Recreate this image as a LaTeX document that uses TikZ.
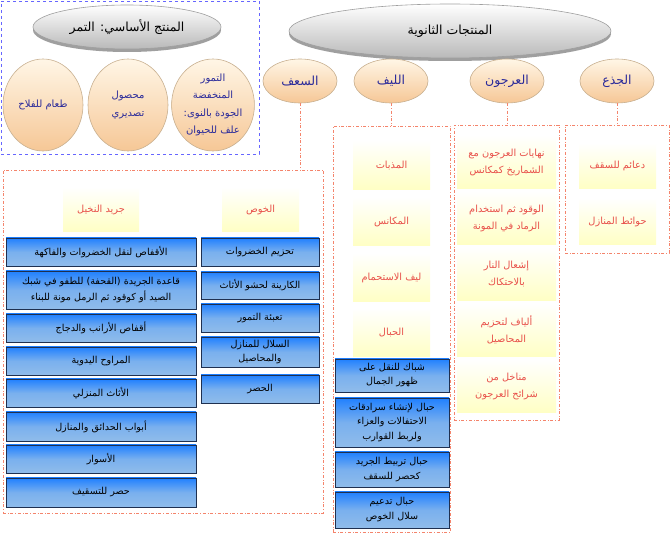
\documentclass[tikz,border=0pt]{standalone}
\usepackage{fontspec}
\setmainfont{DejaVu Sans}
\newfontfamily\arabicfont[Script=Arabic]{DejaVu Sans}
\TeXXeTstate=1
\usetikzlibrary{shadows,shapes.geometric}
\newcommand{\ar}[1]{\beginR #1\endR}
\definecolor{frameorange}{HTML}{F4846C}
\definecolor{framblue}{HTML}{6666FF}
\definecolor{redtxt}{HTML}{E8504A}
\definecolor{navytxt}{HTML}{2A2A9A}
\definecolor{bluetop}{HTML}{2080FF}
\definecolor{bluebot}{HTML}{90BCEA}
\definecolor{blueedge}{HTML}{1F3050}
\definecolor{peachtop}{HTML}{FFF6E6}
\definecolor{peachbot}{HTML}{F6C796}
\definecolor{peachedge}{HTML}{C8B090}
\definecolor{yellowbot}{HTML}{FFFFC4}
\tikzset{
  frameo/.style={draw=frameorange, dash dot, line width=0.8pt, inner sep=0pt},
  frameb/.style={draw=framblue, dashed, line width=0.8pt, inner sep=0pt},
  conn/.style={draw=frameorange, dash dot, line width=0.8pt},
  bigell/.style={ellipse, top color=white, bottom color=gray!55, draw=gray!75, line width=0.6pt,
     drop shadow={shadow xshift=0pt, shadow yshift=-3pt, fill=gray!75, opacity=1},
     inner sep=0pt, font=\arabicfont\fontsize{12.5}{14}\selectfont, text=black},
  smell/.style={ellipse, top color=peachtop, bottom color=peachbot, draw=peachedge, line width=0.6pt,
     inner sep=0pt, minimum width=74pt, minimum height=44pt,
     font=\arabicfont\fontsize{12.5}{14}\selectfont, text=navytxt},
  circ/.style={ellipse, top color=peachtop, bottom color=peachbot, draw=peachedge, line width=0.6pt,
     inner sep=0pt, minimum width=80pt, minimum height=92pt, align=center,
     font=\arabicfont\fontsize{10}{17.5}\selectfont, text=navytxt},
  ybox/.style={rectangle, top color=white, bottom color=yellowbot, inner sep=1pt, align=center,
     font=\arabicfont\fontsize{9.8}{17}\selectfont, text=redtxt},
  bbox/.style={rectangle, top color=bluetop, bottom color=bluebot, middle color=bluebot!80!bluetop, draw=blueedge, line width=0.7pt,
     drop shadow={shadow xshift=1pt, shadow yshift=-1pt, fill=gray!70, opacity=1},
     inner sep=1pt, align=center, font=\arabicfont\fontsize{9.6}{15}\selectfont, text=black},
}
\begin{document}
\begin{tikzpicture}[x=1pt,y=-1pt]
\useasboundingbox (0,0) rectangle (670,534);
\fill[white] (0,0) rectangle (670,534);

% frames
\node[frameb, minimum width=258pt, minimum height=153pt] (tlframe) at (130,77.5) {};
\node[frameo, minimum width=320pt, minimum height=343pt] (lframe) at (163,341.5) {};
\node[frameo, minimum width=117pt, minimum height=406pt] (lifframe) at (391.5,329) {};
\node[frameo, minimum width=105pt, minimum height=295pt] (arjframe) at (506.5,272.5) {};
\node[frameo, minimum width=104pt, minimum height=128pt] (jidhframe) at (617,189) {};

% main product
\node[bigell, minimum width=188pt, minimum height=44pt] (main) at (127,27) {\ar{المنتج الأساسي: التمر}};
\node[circ] (c1) at (43,105) {\ar{طعام للفلاح}};
\node[circ] (c2) at (128,105) {\ar{محصول}\\\ar{تصديري}};
\node[circ] (c3) at (213,105) {\ar{التمور}\\\ar{المنخفضة}\\\ar{الجودة بالنوى:}\\\ar{علف للحيوان}};

% secondary products
\node[bigell, minimum width=322pt, minimum height=54pt] (sec) at (450,31) {\ar{المنتجات الثانوية}};
\node[smell] (saaf) at (300,81) {\ar{السعف}};
\node[smell] (lif) at (391,81) {\ar{الليف}};
\node[smell] (arj) at (507,81) {\ar{العرجون}};
\node[smell] (jidh) at (617,81) {\ar{الجذع}};

\draw[conn] (saaf.south) -- (saaf.south |- lframe.north);
\draw[conn] (lif.south) -- (lif.south |- lifframe.north);
\draw[conn] (arj.south) -- (arj.south |- arjframe.north);
\draw[conn] (jidh.south) -- (jidh.south |- jidhframe.north);

% الجذع
\node[ybox, minimum width=77pt, minimum height=46pt] (j1) at (617.5,166) {\ar{دعائم للسقف}};
\node[ybox, minimum width=77pt, minimum height=47pt] (j2) at (617.5,221.5) {\ar{حوائط المنازل}};

% العرجون
\node[ybox, minimum width=99pt, minimum height=54pt] (a1) at (506.5,162) {\ar{نهايات العرجون مع}\\\ar{الشماريخ كمكانس}};
\node[ybox, minimum width=99pt, minimum height=54pt] (a2) at (506.5,218) {\ar{الوقود ثم استخدام}\\\ar{الرماد في المونة}};
\node[ybox, minimum width=99pt, minimum height=54pt] (a3) at (506.5,274) {\ar{إشعال النار}\\\ar{بالاحتكاك}};
\node[ybox, minimum width=99pt, minimum height=54pt] (a4) at (506.5,330) {\ar{ألياف لتحزيم}\\\ar{المحاصيل}};
\node[ybox, minimum width=99pt, minimum height=54pt] (a5) at (506.5,386) {\ar{مناخل من}\\\ar{شرائح العرجون}};

% الليف
\node[ybox, minimum width=77pt, minimum height=49pt] (l1) at (391.5,165) {\ar{المذبات}};
\node[ybox, minimum width=77pt, minimum height=49pt] (l2) at (391.5,221.5) {\ar{المكانس}};
\node[ybox, minimum width=77pt, minimum height=49pt] (l3) at (391.5,277.5) {\ar{ليف الاستحمام}};
\node[ybox, minimum width=77pt, minimum height=49pt] (l4) at (391.5,332.5) {\ar{الحبال}};
\node[bbox, minimum width=114pt, minimum height=33pt, font=\arabicfont\fontsize{9.6}{14}\selectfont] (lb1) at (392,375.5) {\ar{شباك للنقل على}\\\ar{ظهور الجمال}};
\node[bbox, minimum width=114pt, minimum height=49pt, font=\arabicfont\fontsize{9.6}{14.5}\selectfont] (lb2) at (392,422.5) {\ar{حبال لإنشاء سرادقات}\\\ar{الاحتفالات والعزاء}\\\ar{ولربط القوارب}};
\node[bbox, minimum width=114pt, minimum height=35pt] (lb3) at (392,469.5) {\ar{حبال تربيط الجريد}\\\ar{كحصر للسقف}};
\node[bbox, minimum width=114pt, minimum height=36pt] (lb4) at (392,510) {\ar{حبال تدعيم}\\\ar{سلال الخوص}};

% السعف
\node[ybox, minimum width=76pt, minimum height=45pt] (h1) at (101,209.5) {\ar{جريد النخيل}};
\node[ybox, minimum width=77pt, minimum height=45pt] (h2) at (260.5,209.5) {\ar{الخوص}};

\node[bbox, minimum width=190pt, minimum height=28pt] (g1) at (101,252) {\ar{الأقفاص لنقل الخضروات والفاكهة}};
\node[bbox, minimum width=190pt, minimum height=38pt, font=\arabicfont\fontsize{9.6}{16}\selectfont] (g2) at (101,290) {\ar{قاعدة الجريدة (القحفة) للطفو في شبك}\\\ar{الصيد أو كوقود ثم الرمل مونة للبناء}};
\node[bbox, minimum width=190pt, minimum height=28pt] (g3) at (101,328) {\ar{أقفاص الأرانب والدجاج}};
\node[bbox, minimum width=190pt, minimum height=28pt] (g4) at (101,361) {\ar{المراوح اليدوية}};
\node[bbox, minimum width=190pt, minimum height=28pt] (g5) at (101,393) {\ar{الأثاث المنزلي}};
\node[bbox, minimum width=190pt, minimum height=29pt] (g6) at (101,426.5) {\ar{أبواب الحدائق والمنازل}};
\node[bbox, minimum width=190pt, minimum height=28pt] (g7) at (101,459) {\ar{الأسوار}};
\node[bbox, minimum width=190pt, minimum height=29pt] (g8) at (101,492.5) {\ar{حصر للتسقيف}};

\node[bbox, minimum width=118pt, minimum height=28pt] (k1) at (260,252) {\ar{تحزيم الخضروات}};
\node[bbox, minimum width=118pt, minimum height=27pt] (k2) at (260,285.5) {\ar{الكارينة لحشو الأثاث}};
\node[bbox, minimum width=118pt, minimum height=28pt] (k3) at (260,318) {\ar{تعبئة التمور}};
\node[bbox, minimum width=118pt, minimum height=30pt, font=\arabicfont\fontsize{9.6}{14}\selectfont] (k4) at (260,352) {\ar{السلال للمنازل}\\\ar{والمحاصيل}};
\node[bbox, minimum width=118pt, minimum height=28pt] (k5) at (260,389) {\ar{الحصر}};
\end{tikzpicture}
\end{document}
